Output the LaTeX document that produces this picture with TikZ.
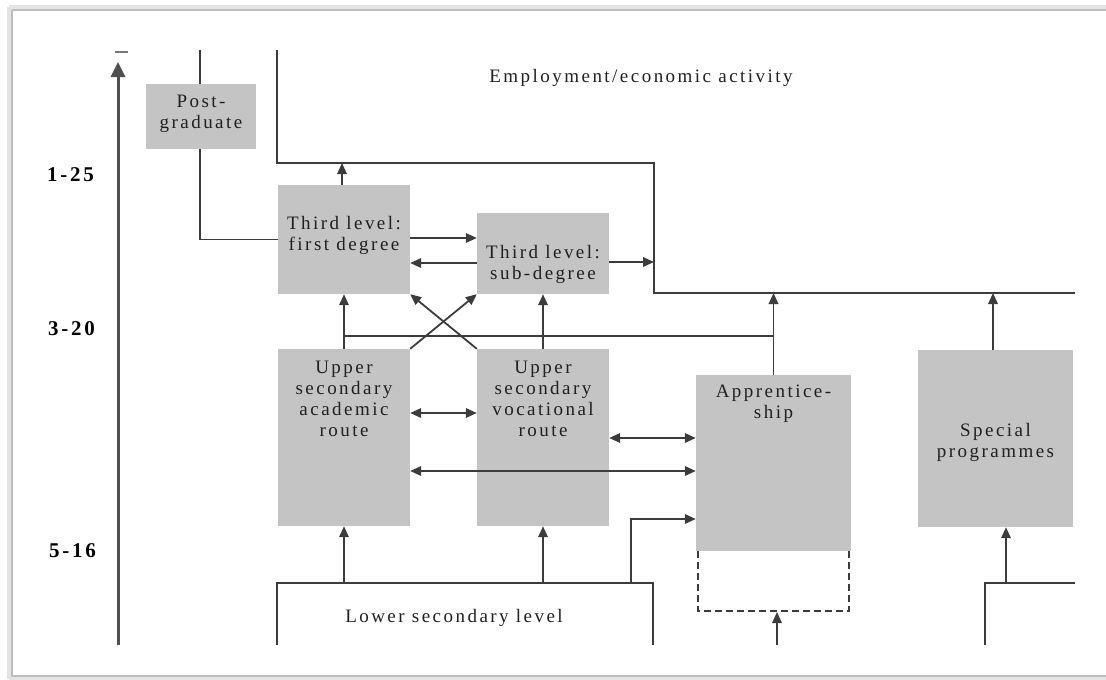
\documentclass[tikz,border=0pt]{standalone}
\usepackage{fontspec}
\setmainfont{Liberation Serif}[LetterSpace=13]
\usetikzlibrary{arrows.meta}
\definecolor{boxgray}{HTML}{C4C4C4}
\definecolor{ink}{HTML}{3C3C3C}
\definecolor{textink}{HTML}{202020}
\definecolor{framegray}{HTML}{BDBDBD}
\begin{document}
\begin{tikzpicture}[x=1pt,y=-1pt,
  box/.style={fill=boxgray,draw=none,inner sep=0pt},
  lbl/.style={font=\fontsize{19}{21}\selectfont,text=textink,inner sep=0pt,align=center},
  age/.style={font=\fontsize{21}{23}\selectfont\bfseries,text=black,inner sep=0pt,anchor=base west},
  wall/.style={draw=ink,line width=2.2pt},
  link/.style={draw=ink,line width=1.8pt},
  arr/.style={link,-{Triangle[length=11pt,width=9.5pt]}},
  darr/.style={link,{Triangle[length=11pt,width=9.5pt]}-{Triangle[length=11pt,width=9.5pt]}}]
\useasboundingbox (0,0) rectangle (1106,680);
% page frame with soft edge
\draw[framegray!40,line width=5pt] (9,7) -- (1110,7);
\draw[framegray!40,line width=5pt] (9,7) -- (9,679);
\draw[framegray!40,line width=5pt] (9,679) -- (1110,679);
\draw[framegray,line width=1.5pt] (12,10) -- (1110,10);
\draw[framegray,line width=1.5pt] (12,10) -- (12,676) -- (1110,676);

% age axis
\coordinate (axisbot) at (118,645);
\coordinate (axistop) at (118,62);
\draw[draw=ink!90,line width=3pt,-{Triangle[length=15pt,width=14pt]}] (axisbot) -- (axistop);
\coordinate (tickl) at (115,52);
\coordinate (tickr) at (128,52);
\draw[ink!70,line width=2pt] (tickl) -- (tickr);
\node[age] (a1) at (47,181) {1-25};
\node[age] (a2) at (48,335) {3-20};
\node[age] (a3) at (49,557) {5-16};

% boxes
\node[box,minimum width=110pt,minimum height=65pt] (post) at (201,116.5) {};
\node[box,minimum width=132pt,minimum height=109pt] (first) at (344,239.5) {};
\node[box,minimum width=132pt,minimum height=81pt] (sub) at (543,253.5) {};
\node[box,minimum width=132pt,minimum height=177pt] (acad) at (344,437.5) {};
\node[box,minimum width=132pt,minimum height=177pt] (voc) at (543,437.5) {};
\node[box,minimum width=155pt,minimum height=176pt] (appr) at (773.5,463) {};
\node[box,minimum width=155pt,minimum height=177pt] (spec) at (995.5,438.5) {};

% box texts
\node[lbl] (postt) at (201,113.5) {Post-\\graduate};
\node[lbl] (firstt) at (344,235.5) {Third level:\\first degree};
\node[lbl] (subt) at (543,264.5) {Third level:\\sub-degree};
\node[lbl] (acadt) at (344,399) {Upper\\secondary\\academic\\route};
\node[lbl] (voct) at (543,399) {Upper\\secondary\\vocational\\route};
\node[lbl] (apprt) at (773.5,403.8) {Apprentice-\\ship};
\node[lbl] (spect) at (995.5,442.5) {Special\\programmes};
\node[lbl,anchor=base] (emp) at (641,82) {Employment/economic activity};
\node[lbl,anchor=base] (lower) at (454,622) {Lower secondary level};

% employment boundary
\coordinate (ea) at (277,50);
\coordinate (eb) at (277,163);
\coordinate (ec) at (654,163);
\coordinate (ed) at (654,293);
\coordinate (ee) at (1075,293);
\draw[wall] (ea) -- (eb) -- (ec) -- (ed) -- (ee);

% lower secondary boundary
\coordinate (la) at (277,645);
\coordinate (lb) at (277,583);
\coordinate (lc) at (653,583);
\coordinate (ld) at (653,645);
\draw[wall] (la) -- (lb) -- (lc) -- (ld);

% special programmes feed
\coordinate (sa) at (985,645);
\coordinate (sb) at (985,583);
\coordinate (sc) at (1075,583);
\draw[wall] (sa) -- (sb) -- (sc);

% postgraduate links
\coordinate (ptop) at (200,50);
\draw[link] ([xshift=-1pt]post.north) -- (ptop);
\draw[link] ([xshift=-1pt]post.south) |- (first.west);

% third level links
\draw[arr] ([xshift=-2pt]first.north) -- ([xshift=-2pt]first.north |- eb);
\draw[arr] (first.east |- 0,238) -- (sub.west |- 0,238);
\draw[arr] (sub.west |- 0,263) -- (first.east |- 0,263);
\draw[arr] (sub.east |- 0,262) -- (ed |- 0,262);

% upper secondary to third level
\draw[arr] (acad.north) -- (first.south);
\draw[arr] (voc.north) -- (sub.south);
\draw[arr] (acad.north east) -- (sub.south west);
\draw[arr] (voc.north west) -- (first.south east);
\coordinate (hl) at (344,336);
\coordinate (hr) at (773.5,336);
\draw[link] (hl) -- (hr);
\draw[arr] (appr.north) -- (appr.north |- ee);
\draw[arr] ([xshift=-2.5pt]spec.north) -- ([xshift=-2.5pt]spec.north |- ee);

% transfers between routes
\draw[darr] (acad.east |- 0,413) -- (voc.west |- 0,413);
\draw[darr] (voc.east |- 0,438) -- (appr.west |- 0,438);
\draw[darr] (acad.east |- 0,471) -- (appr.west |- 0,471);

% from lower secondary
\draw[arr] (acad.south |- lb) -- (acad.south);
\draw[arr] (voc.south |- lb) -- (voc.south);
\coordinate (lf) at (631,583);
\draw[arr] (lf) |- (appr.west |- 0,519);
\coordinate (sf) at (1006,583);
\draw[arr] (sf) -- (sf |- spec.south);

% apprenticeship entry (dashed)
\coordinate (da) at (698,551);
\coordinate (db) at (698,611);
\coordinate (dc) at (849,611);
\coordinate (dd) at (849,551);
\draw[link,dashed,dash pattern=on 7pt off 4pt] (da) -- (db) -- (dc) -- (dd);
\coordinate (din) at (777,645);
\draw[arr] (din) -- (777,612);
\end{tikzpicture}
\end{document}
